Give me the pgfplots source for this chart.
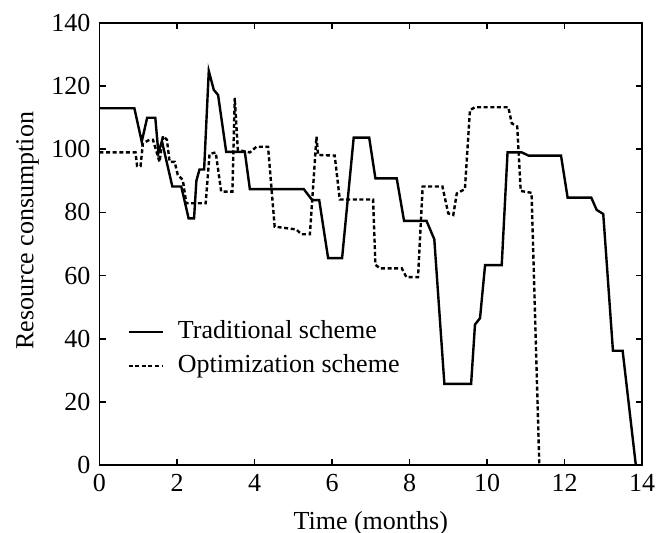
\documentclass[12pt,border=0pt]{standalone}
\usepackage{fontspec}
\setmainfont{Liberation Serif}
\usepackage{pgfplots}
\pgfplotsset{compat=1.18}
\begin{document}
\fontsize{13}{15.6}\selectfont
\begin{tikzpicture}
\begin{axis}[
    name=ax,
    width=271.25pt, height=221pt, scale only axis,
    xmin=0, xmax=14, ymin=0, ymax=140,
    xtick={0,2,...,14}, ytick={0,20,...,140},
    tick align=inside, tick pos=both,
    major tick length=3pt,
    axis line style={line width=0.8pt},
    every tick/.style={black, line width=0.8pt},
    xlabel={Time (months)}, ylabel={Resource consumption},
    xlabel style={at={(axis description cs:0.5,0)}, anchor=center, yshift=-29pt},
    ylabel style={at={(axis description cs:0,0.53)}, anchor=center, yshift=36pt},
    /pgf/number format/assume math mode=true,
    legend style={draw=none, fill=none, at={(axis cs:0.66,47.7)}, anchor=north west,
        inner sep=1pt, row sep=2pt,
        /tikz/every odd column/.append style={column sep=5pt}},
    legend cell align=left,
    legend image code/.code={\draw[#1] (0pt,0pt) -- (17pt,0pt);},
]
\addplot[black, line width=1.2pt] coordinates {
(0,113) (0.9,113) (1.09,102.4) (1.23,110) (1.44,110) (1.52,98.8) (1.61,102.6)
(1.88,88.2) (2.11,88.2) (2.30,78.1) (2.44,78.1) (2.50,90) (2.58,93.6) (2.70,93.6)
(2.82,124.8) (2.95,118.8) (3.06,117.2) (3.27,99.2) (3.75,99.2) (3.88,87.4)
(5.27,87.4) (5.49,83.9) (5.67,83.9) (5.9,65.5) (6.26,65.5) (6.56,103.7) (6.96,103.7)
(7.12,90.8) (7.67,90.8) (7.86,77.3) (8.44,77.3) (8.64,71.5) (8.90,25.7) (9.59,25.7)
(9.69,44.5) (9.82,46.5) (9.95,63.3) (10.38,63.3) (10.53,99) (10.9,99) (11.07,98)
(11.91,98) (12.08,84.7) (12.69,84.7) (12.83,80.8) (13.0,79.5) (13.25,36.2)
(13.5,36.2) (13.84,0)
};
\addlegendentry{Traditional scheme}
\addplot[black, line width=1.2pt, dash pattern=on 2pt off 1.3pt] coordinates {
(0,99) (0.93,99) (0.97,94.7) (1.06,94.7) (1.12,101.9) (1.29,103) (1.38,103)
(1.55,96) (1.64,104.2) (1.74,103) (1.81,96) (1.94,96) (2.02,91.9) (2.15,90.3)
(2.24,82.9) (2.74,82.9) (2.84,98.5) (3.0,99) (3.14,86.6) (3.43,86.6) (3.49,116.3)
(3.57,99.8) (3.88,99) (4.05,100.8) (4.35,100.8) (4.52,75.5) (5.08,74.6) (5.21,73.1)
(5.43,73.1) (5.6,104) (5.64,98.2) (6.07,98) (6.2,84.1) (7.06,84.1) (7.12,63.4)
(7.24,62.3) (7.80,62.3) (7.92,59.5) (8.22,59.5) (8.34,88.2) (8.85,88.2) (9.0,79.7)
(9.13,79.2) (9.22,86) (9.43,87.4) (9.56,112.4) (9.69,113.3) (10.55,113.3)
(10.64,108.2) (10.78,107.2) (10.87,86.8) (11.15,86.2) (11.35,0)
};
\addlegendentry{Optimization scheme}
\end{axis}
\path (ax.south west) ++(-49.75pt,-34pt) coordinate (bl);
\path (ax.north east) ++(13.5pt,11.5pt) coordinate (tr);
\pgfresetboundingbox
\path (bl) rectangle (tr);
\end{tikzpicture}
\end{document}
